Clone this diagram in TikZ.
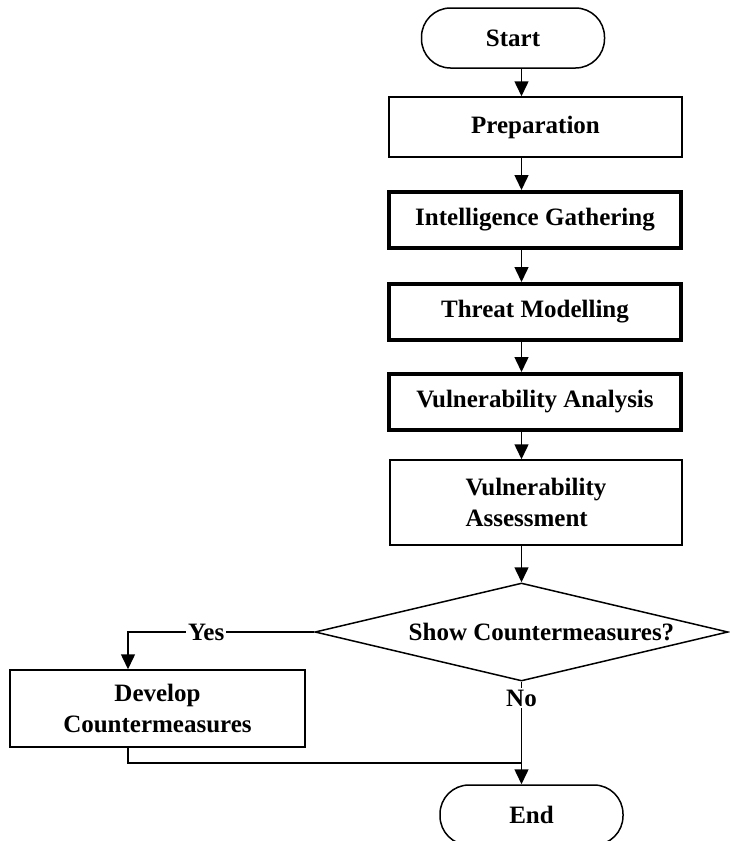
\documentclass[tikz,border=0pt]{standalone}
\usepackage{fontspec}
\setmainfont{Liberation Serif}
\usetikzlibrary{shapes.geometric,arrows.meta}
\begin{document}
\begin{tikzpicture}[x=1pt,y=-1pt,
  font=\fontsize{25}{31}\selectfont\bfseries,
  box/.style={draw,line width=1.5pt,minimum height=60pt,inner sep=0pt,align=center},
  thickbox/.style={box,line width=4pt,minimum width=292pt,minimum height=56pt},
  term/.style={box,rounded corners=29pt,minimum width=183pt},
  arr/.style={line width=1.5pt,-{Triangle[length=15pt,width=14pt]}}]
\useasboundingbox (0,0) rectangle (729,841);
\node[term] (start) at (513,38) {Start};
\node[box,minimum width=293pt] (prep) at (535.5,127) {Preparation};
\node[thickbox] (intel) at (535,220) {Intelligence Gathering};
\node[thickbox] (threat) at (535,312) {Threat Modelling};
\node[thickbox] (vulnan) at (535,402) {Vulnerability Analysis};
\node[box,align=left,minimum width=292pt,minimum height=85pt] (vulnas) at (536,502.5) {Vulnerability\\Assessment};
\node[draw,diamond,line width=1.5pt,aspect=4.2,minimum width=413pt,minimum height=98pt,inner sep=0pt,
  label={[xshift=20pt]center:Show Countermeasures?}] (decide) at (521.5,632) {};
\node[box,minimum width=295pt,minimum height=77pt] (develop) at (157.5,708.5) {Develop\\Countermeasures};
\node[term] (end) at (531.5,815) {End};
\foreach \a/\b in {start/prep,prep/intel,intel/threat,threat/vulnan,vulnan/vulnas,vulnas/decide}
  \draw[arr] (\a.south -| decide) -- (\b.north -| decide);
\coordinate (yesturn) at (128,632);
\coordinate (merge) at (521.5,763);
\draw[arr] (decide.west) -- node[pos=0.58,fill=white,inner sep=2pt]{Yes} (yesturn) -- (yesturn |- develop.north);
\draw[arr] (decide.south) -- node[pos=0.16,fill=white,inner sep=2pt]{No} (end.north -| decide);
\draw[line width=1.5pt] (develop.south -| yesturn) |- (merge);
\end{tikzpicture}
\end{document}
